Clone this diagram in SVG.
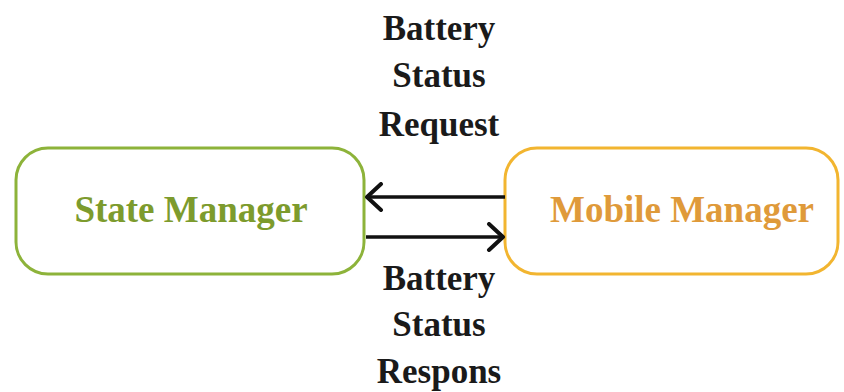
<svg xmlns="http://www.w3.org/2000/svg" width="844" height="392" viewBox="0 0 844 392">
<style>
.box{fill:#fff;stroke-width:3}
.lbl{font-family:"Liberation Serif","DejaVu Serif",serif;font-weight:bold;font-size:37px;text-anchor:middle}
.edge{font-family:"Liberation Serif","DejaVu Serif",serif;font-weight:bold;font-size:35px;text-anchor:middle;fill:#1a1a1a}
.conn{stroke:#111;stroke-width:3.5;fill:none}
</style>
<defs>
<marker id="arr" viewBox="0 0 20 30" refX="18" refY="15" markerWidth="20" markerHeight="30" markerUnits="userSpaceOnUse" orient="auto">
<path d="M3,2 L17,15 L3,28" fill="none" stroke="#111" stroke-width="4" stroke-linecap="round" stroke-linejoin="round"/>
</marker>
</defs>
<rect width="844" height="392" fill="#fff"/>
<g id="state-manager">
<rect class="box" x="16" y="148" width="348" height="126" rx="32" stroke="#8db33a"/>
<text class="lbl" x="191" y="222" fill="#7d9b2d">State Manager</text>
</g>
<g id="mobile-manager">
<rect class="box" x="505" y="148" width="333" height="126" rx="32" stroke="#f2b530"/>
<text class="lbl" x="682" y="222" fill="#df9a3a">Mobile Manager</text>
</g>
<g id="connectors">
<line class="conn" x1="505" y1="197" x2="366" y2="197" marker-end="url(#arr)"/>
<line class="conn" x1="366" y1="237" x2="504" y2="237" marker-end="url(#arr)"/>
<text class="edge" x="439" y="40">Battery</text>
<text class="edge" x="439" y="87">Status</text>
<text class="edge" x="439" y="136">Request</text>
<text class="edge" x="439" y="290">Battery</text>
<text class="edge" x="439" y="336">Status</text>
<text class="edge" x="439" y="383">Respons</text>
</g>
</svg>
